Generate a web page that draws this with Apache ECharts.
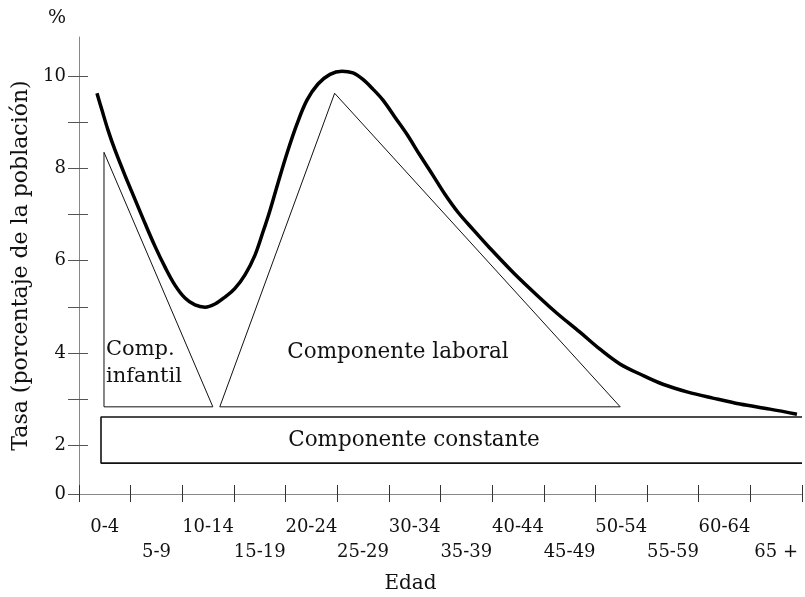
<!DOCTYPE html>
<html>
<head>
<meta charset="utf-8">
<script src="https://cdn.jsdelivr.net/npm/echarts@6/dist/echarts.min.js"></script>
<style>
html,body{margin:0;padding:0;background:#fff;}
#chart{width:805px;height:597px;}
</style>
</head>
<body>
<div id="chart"></div>
<script>
// Age-group categories on the x axis
const ageGroups = ['0-4','5-9','10-14','15-19','20-24','25-29','30-34','35-39','40-44','45-49','50-54','55-59','60-64','65 +'];

// Migration-rate curve (age in years, rate in %)
const curveAge  = [1.74,2.23,2.81,3.48,4.45,5.42,6.39,7.36,8.33,9.29,10.26,11.23,12.20,13.17,14.13,15.10,16.07,17.04,17.81,18.49,19.26,20.14,21.10,22.07,23.14,24.30,25.46,26.53,27.49,28.46,29.43,30.59,31.75,33.00,34.27,35.43,36.69,38.14,39.79,42.01,44.63,46.27,48.50,50.44,52.37,54.50,56.53,58.95,61.37,63.99,66.89,69.51];
const curveRate = [9.63,9.26,8.83,8.40,7.85,7.33,6.81,6.31,5.86,5.47,5.19,5.04,4.99,5.06,5.21,5.40,5.69,6.12,6.62,7.09,7.68,8.33,8.96,9.48,9.83,10.04,10.11,10.07,9.93,9.72,9.48,9.11,8.74,8.29,7.85,7.44,7.05,6.68,6.27,5.75,5.19,4.86,4.45,4.08,3.76,3.52,3.32,3.15,3.02,2.89,2.78,2.67];

// Schematic components
const childAge  = [2.42, 2.42, 12.96, 2.42];
const childRate = [2.83, 8.35, 2.83, 2.83];
const laborAge  = [13.63, 24.75, 52.4, 13.63];
const laborRate = [2.83, 9.63, 2.83, 2.83];
const constAge  = [70, 2.13, 2.13, 70];
const constRate = [2.61, 2.61, 1.61, 1.61];

// Y tick labels; the "0" sits on a compressed stretch of the axis
const yTickLabels = ['0','2','4','6','8','10'];
const yMinorTicks = [3,5,7,9];
const Y_ZERO_POS = 0.94;   // axis position where the "0" label is drawn
const Y_MAX = 10.85;

const zip = (a, b) => a.map((v, i) => [v, b[i]]);
const yLabelPos = yTickLabels.map(t => t === '0' ? Y_ZERO_POS : Number(t));
const yTickPos = yLabelPos.concat(yMinorTicks).sort((a, b) => a - b);

const FONT = 'DejaVu Serif';
const chart = echarts.init(document.getElementById('chart'));

chart.setOption({
  backgroundColor: '#ffffff',
  animation: false,
  grid: { left: 79, right: 3, top: 37, bottom: 103, outerBoundsMode: 'none', containLabel: false },
  xAxis: [
    {
      type: 'category', data: ageGroups, position: 'bottom', boundaryGap: true,
      axisLine: { onZero: false, lineStyle: { color: '#888', width: 1 } },
      axisTick: { show: true, inside: false, length: 8, lineStyle: { color: '#333' } },
      axisLabel: {
        margin: 21, color: '#111', fontFamily: FONT, fontSize: 18, lineHeight: 25,
        interval: 0,
        formatter: (v, i) => (i % 2 ? '\n' + v : v)
      },
      splitLine: { show: false },
      name: 'Edad', nameLocation: 'middle', nameGap: 80,
      nameTextStyle: { color: '#111', fontFamily: FONT, fontSize: 20, padding: [0, 60, 0, 0] }
    },
    {
      type: 'category', data: ageGroups, position: 'bottom', boundaryGap: true,
      axisLine: { show: false, onZero: false },
      axisTick: { show: true, inside: true, length: 9, lineStyle: { color: '#333' } },
      axisLabel: { show: false },
      splitLine: { show: false }
    },
    {
      type: 'value', min: 0, max: 70, position: 'bottom', show: false,
      axisLine: { onZero: false }, splitLine: { show: false }
    }
  ],
  yAxis: [
    {
      type: 'value', min: Y_ZERO_POS, max: Y_MAX, position: 'left',
      axisLine: { show: true, onZero: false, lineStyle: { color: '#888', width: 1 } },
      axisTick: { show: true, inside: false, length: 11, customValues: yTickPos, lineStyle: { color: '#555' } },
      axisLabel: {
        margin: 13, color: '#111', fontFamily: FONT, fontSize: 18,
        customValues: yLabelPos,
        formatter: v => yTickLabels[yLabelPos.indexOf(v)] ?? ''
      },
      splitLine: { show: false },
      name: '%', nameLocation: 'end', nameGap: 9,
      nameTextStyle: { color: '#111', fontFamily: FONT, fontSize: 19, padding: [0, 44, 0, 0] }
    },
    {
      type: 'value', min: Y_ZERO_POS, max: Y_MAX, position: 'left',
      axisLine: { show: false, onZero: false },
      axisTick: { show: true, inside: true, length: 9, customValues: yTickPos.filter(v => v > 1.5), lineStyle: { color: '#555' } },
      axisLabel: { show: false },
      splitLine: { show: false },
      name: 'Tasa (porcentaje de la población)', nameLocation: 'middle', nameGap: 47,
      nameTextStyle: { color: '#111', fontFamily: FONT, fontSize: 22 }
    }
  ],
  series: [
    {
      type: 'line', xAxisIndex: 2, yAxisIndex: 0, data: zip(constAge, constRate),
      symbol: 'none', lineStyle: { color: '#111', width: 1.6 }, z: 2
    },
    {
      type: 'line', xAxisIndex: 2, yAxisIndex: 0, data: zip(childAge, childRate),
      symbol: 'none', lineStyle: { color: '#111', width: 1 }, z: 2
    },
    {
      type: 'line', xAxisIndex: 2, yAxisIndex: 0, data: zip(laborAge, laborRate),
      symbol: 'none', lineStyle: { color: '#111', width: 1 }, z: 2
    },
    {
      type: 'line', xAxisIndex: 2, yAxisIndex: 0, data: zip(curveAge, curveRate),
      symbol: 'none', smooth: 0.35, lineStyle: { color: '#000', width: 3.5 }, z: 3
    }
  ],
  graphic: [
    { type: 'text', left: 106, top: 336, style: { text: 'Comp.\ninfantil', fill: '#111', font: '21px "DejaVu Serif"', lineHeight: 27 } },
    { type: 'text', x: 398, y: 352, style: { text: 'Componente laboral', fill: '#111', font: '21.5px "DejaVu Serif"', align: 'center', verticalAlign: 'middle' } },
    { type: 'text', x: 414, y: 440, style: { text: 'Componente constante', fill: '#111', font: '21.5px "DejaVu Serif"', align: 'center', verticalAlign: 'middle' } }
  ]
});
</script>
</body>
</html>
